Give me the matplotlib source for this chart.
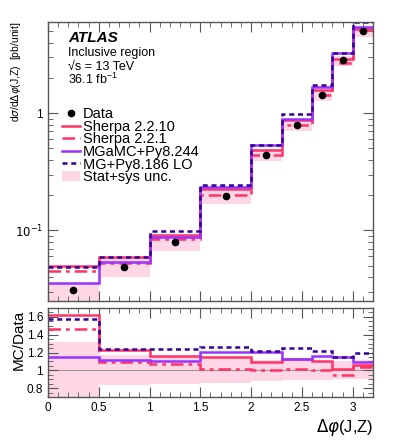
import matplotlib
matplotlib.use('Agg')
import matplotlib.pyplot as plt
import numpy as np
from matplotlib.lines import Line2D
from matplotlib.patches import Patch
from matplotlib.ticker import MultipleLocator, LogLocator, NullFormatter, FixedLocator, FixedFormatter

plt.rcParams['font.family'] = ['Liberation Sans', 'DejaVu Sans']

# bin edges in delta phi(J,Z)
edges = [0.0, 0.5, 1.0, 1.5, 2.0, 2.3, 2.6, 2.8, 3.0, 3.2]

# measured cross section [pb/unit]
data = [0.0308, 0.0483, 0.0791, 0.196, 0.441, 0.787, 1.43, 2.82, 4.98]

# MC / Data ratios
sherpa2210 = [1.618, 1.227, 1.160, 1.150, 1.097, 1.123, 1.104, 1.019, 1.060]
sherpa221 = [1.469, 1.097, 1.067, 1.015, 1.000, 1.015, 1.000, 0.944, 1.037]
mgamc = [1.149, 1.112, 1.104, 1.205, 1.208, 1.130, 1.160, 1.153, 1.097]
mglo = [1.581, 1.238, 1.238, 1.257, 1.216, 1.253, 1.216, 1.153, 1.197]

# relative stat+sys uncertainty band
band_lo = [0.60, 0.832, 0.844, 0.862, 0.880, 0.888, 0.890, 0.900, 0.900]
band_hi = [1.316, 1.17, 1.16, 1.15, 1.12, 1.11, 1.11, 1.10, 1.12]
main_band_hi = [1.14, 1.17, 1.16, 1.15, 1.12, 1.11, 1.11, 1.10, 1.12]

c_sherpa = '#ff3366'
c_mgamc = '#9933ff'
c_mglo = '#330099'
c_band = '#ffd6e6'
c_axis = '#555555'

edges = np.array(edges)
data = np.array(data)
centers = 0.5 * (edges[1:] + edges[:-1])

fig = plt.figure(figsize=(3.99, 4.40), dpi=100)
ax = fig.add_axes([0.1203, 0.3159, 0.8145, 0.6341])
rx = fig.add_axes([0.1203, 0.0977, 0.8145, 0.2023])

styles = [
    (sherpa2210, c_sherpa, '-', 'Sherpa 2.2.10'),
    (sherpa221, c_sherpa, (0, (5, 2, 1.5, 2)), 'Sherpa 2.2.1'),
    (mgamc, c_mgamc, '-', 'MGaMC+Py8.244'),
    (mglo, c_mglo, (0, (2, 1.5)), 'MG+Py8.186 LO'),
]

# main panel
ax.stairs(data * np.array(main_band_hi), edges, baseline=data * np.array(band_lo),
          fill=True, color=c_band, lw=0, zorder=1)
for ratio, col, ls, lab in styles:
    ax.stairs(data * np.array(ratio), edges, baseline=None, color=col, ls=ls, lw=1.8, zorder=2)
ax.plot(centers, data, 'o', color='black', ms=4.5, zorder=5)

ax.set_yscale('log')
ax.set_xlim(0, 3.2)
ax.set_ylim(0.025, 6.0)
ax.yaxis.set_major_locator(FixedLocator([0.1, 1]))
ax.yaxis.set_major_formatter(FixedFormatter([r'$10^{-1}$', '1']))
ax.yaxis.set_minor_locator(LogLocator(base=10, subs=np.arange(2, 10)))
ax.yaxis.set_minor_formatter(NullFormatter())
ax.xaxis.set_major_locator(MultipleLocator(0.5))
ax.xaxis.set_minor_locator(MultipleLocator(0.1))
ax.set_xticklabels([])

# ratio panel
rx.stairs(band_hi, edges, baseline=band_lo, fill=True, color=c_band, lw=0, zorder=1)
rx.axhline(1.0, color='#999999', lw=0.8, zorder=1.5)
for ratio, col, ls, lab in styles:
    rx.stairs(ratio, edges, baseline=None, color=col, ls=ls, lw=1.8, zorder=2)
rx.set_xlim(0, 3.2)
rx.set_ylim(0.7, 1.7)
rx.yaxis.set_major_locator(FixedLocator([0.8, 1.0, 1.2, 1.4, 1.6]))
rx.yaxis.set_major_formatter(FixedFormatter(['0.8', '1', '1.2', '1.4', '1.6']))
rx.yaxis.set_minor_locator(MultipleLocator(0.05))
rx.xaxis.set_major_locator(MultipleLocator(0.5))
rx.xaxis.set_minor_locator(MultipleLocator(0.1))
rx.xaxis.set_major_formatter(matplotlib.ticker.FuncFormatter(lambda v, p: '%g' % v))

for a in (ax, rx):
    a.tick_params(which='both', direction='in', top=True, right=True, color=c_axis, labelsize=8.5)
    a.tick_params(which='major', length=7)
    a.tick_params(which='minor', length=3.5)
    for s in a.spines.values():
        s.set_color(c_axis)
        s.set_linewidth(1.0)

# axis titles
fig.text(0.040, 0.95, r'd$\sigma$/d$\Delta\varphi$(J,Z)  [pb/unit]', rotation=90,
         fontsize=7.5, ha='center', va='top')
fig.text(0.046, 0.227, 'MC/Data', rotation=90, fontsize=11, ha='center', va='center')
fig.text(0.935, 0.0295, r'$\Delta\varphi$(J,Z)', fontsize=12, ha='right', va='center')

# labels
ax.text(0.062, 0.943, 'ATLAS', transform=ax.transAxes, fontsize=11, fontweight='bold',
        style='italic', va='center')
ax.text(0.062, 0.89, 'Inclusive region', transform=ax.transAxes, fontsize=9, va='center')
ax.text(0.062, 0.84, '\u221as = 13 TeV', transform=ax.transAxes, fontsize=9, va='center')
ax.text(0.062, 0.793, r'36.1 fb$^{\mathregular{-1}}$', transform=ax.transAxes, fontsize=9, va='center')

handles = [Line2D([], [], marker='o', color='black', ls='none', ms=4.5)]
labels = ['Data']
for ratio, col, ls, lab in styles:
    handles.append(Line2D([], [], color=col, ls=ls, lw=1.8))
    labels.append(lab)
handles.append(Patch(facecolor=c_band, edgecolor='none'))
labels.append('Stat+sys unc.')
ax.legend(handles, labels, loc='upper left', bbox_to_anchor=(0.022, 0.72), frameon=False,
          fontsize=10.5, handlelength=1.2, handletextpad=0.2, labelspacing=-0.1, borderpad=0)

fig.savefig('out.png', dpi=100)
